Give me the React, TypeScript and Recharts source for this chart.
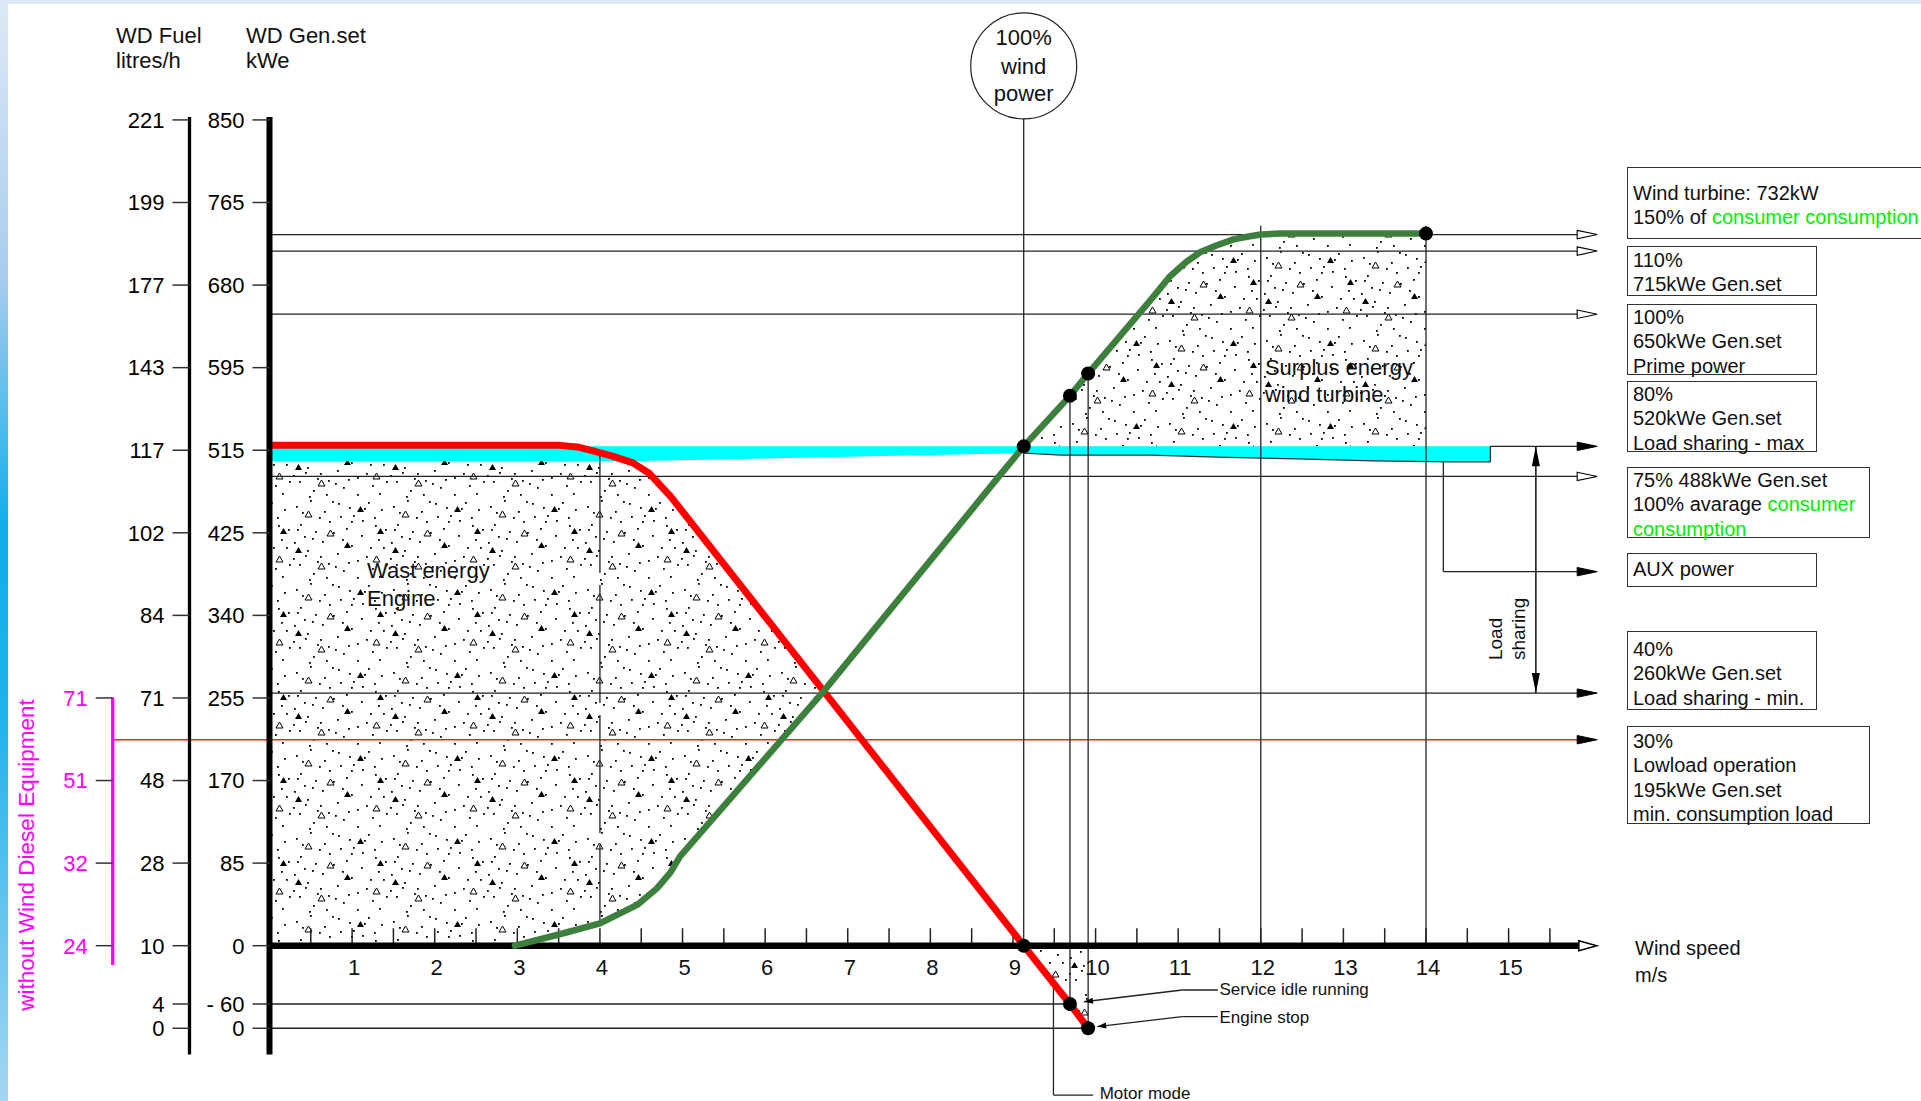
import React from "react";
import {
  ComposedChart,
  XAxis,
  YAxis,
  Line,
  Area,
  ReferenceLine,
  ReferenceDot,
} from "recharts";

const FONT = "'Liberation Sans', Arial, sans-serif";

// left axes: tick positions on the kWe scale and the labels printed there
const kweTicks = [-85, -60, 0, 85, 170, 255, 340, 425, 510, 595, 680, 765, 850];
const kweLabels = ["0", "- 60", "0", "85", "170", "255", "340", "425", "515", "595", "680", "765", "850"];
const fuelLabels = ["0", "4", "10", "28", "48", "71", "84", "102", "117", "143", "177", "199", "221"];
const magTicks = [0, 85, 170, 255];
const magLabels = ["24", "32", "51", "71"];

// wind speed axis
const xTicks = [0.5, 1, 1.5, 2, 2.5, 3, 3.5, 4, 4.5, 5, 5.5, 6, 6.5, 7, 7.5, 8, 8.5, 9, 9.5, 10, 10.5, 11, 11.5, 12, 12.5, 13, 13.5, 14, 14.5, 15, 15.5];
const xLabels = [1, 2, 3, 4, 5, 6, 7, 8, 9, 10, 11, 12, 13, 14, 15];

// diesel gen.set load (red)
const engineX = [0, 3.52, 3.75, 3.93, 4.15, 4.4, 4.6, 4.86, 9.13, 9.69, 9.91];
const engineKwe = [515, 515, 513, 509, 504, 497, 486, 462, 0, -60, -85];

// wind turbine power (green)
const windX = [2.97, 3.48, 4.0, 4.45, 4.69, 4.85, 4.97, 6.71, 8.82, 9.13, 9.69, 9.91, 10.3, 10.66, 10.9, 11.1, 11.27, 11.47, 11.67, 11.85, 12.0, 12.23, 14.0];
const windKwe = [0, 11, 23, 42, 59, 75, 92, 262, 482, 514, 566, 589, 628, 664, 689, 704, 714, 721, 727, 730, 732, 733, 733];

// cyan load sharing band
const bandX = [0, 4.5, 9.13, 9.59, 10.66, 11.47, 12.44, 13.36, 14.29, 14.78];
const bandLow = [499, 499, 507, 505, 505, 503, 501, 499, 498, 498];
const bandHigh = [514, 514, 514, 514, 514, 514, 514, 514, 514, 514];

// stippled regions
const wasteX = [0, 2.97, 3.48, 4.0, 4.3, 4.4, 4.6, 4.69, 4.86, 4.97, 6.71];
const wasteLow = [0, 0, 11, 23, 35, 39, 54, 59, 79, 92, 262];
const wasteHigh = [499, 499, 499, 499, 499, 497, 486, 478, 462, 450, 262];
const surplusX = [9.13, 9.69, 9.91, 10.3, 10.66, 10.9, 11.1, 11.27, 11.47, 11.67, 11.85, 12.0, 12.23, 14.0];
const surplusLow = [514, 514, 514, 514, 514, 514, 514, 514, 514, 514, 514, 514, 514, 514];
const surplusHigh = [514, 566, 589, 628, 664, 689, 704, 714, 721, 727, 730, 732, 733, 733];
const motorX = [9.13, 9.69, 9.91];
const motorLow = [0, -60, -85];
const motorHigh = [0, 0, 0];

// marked points
const dotX = [9.13, 9.13, 9.69, 9.91, 9.69, 9.91, 14.0];
const dotKwe = [0, 514, 566, 589, -60, -85, 733];

// horizontal levels with arrows to the legend boxes
const levelKwe = [732, 715, 650, 483, 260];
const levelMarker = ["arrOpen", "arrOpen", "arrOpen", "arrOpen", "arrFill"];

const pts = (xs: number[], ys: number[]) => xs.map((x, i) => ({ x, y: ys[i] }));
const rng = (xs: number[], lo: number[], hi: number[]) => xs.map((x, i) => ({ x, v: [lo[i], hi[i]] }));

const ARROW_END = 15.83;
const MAG_X = -1.898;

const lineShape = (end?: string, start?: string) => (p: any) => (
  <line
    x1={p.x1}
    y1={p.y1}
    x2={p.x2}
    y2={p.y2}
    stroke={p.stroke}
    strokeWidth={p.strokeWidth}
    strokeDasharray={p.strokeDasharray}
    markerEnd={end ? `url(#${end})` : undefined}
    markerStart={start ? `url(#${start})` : undefined}
  />
);

const textShape = (lines: string[], size: number, gap: number, anchor = "start") => (p: any) => (
  <text x={p.cx} y={p.cy} fontSize={size} fontFamily={FONT} fill="#111" textAnchor={anchor} dominantBaseline="central">
    {lines.map((l, i) => (
      <tspan key={i} x={p.cx} dy={i === 0 ? 0 : gap}>
        {l}
      </tspan>
    ))}
  </text>
);

const boxes = [
  { top: 167, h: 72, w: 330, pad: 13, lines: [["Wind turbine: 732kW"], ["150% of ", "consumer consumption"]] },
  { top: 246, h: 50, w: 190, pad: 1, lines: [["110%"], ["715kWe Gen.set"]] },
  { top: 304, h: 71, w: 190, pad: 0, lines: [["100%"], ["650kWe Gen.set"], ["Prime power"]] },
  { top: 381, h: 71, w: 190, pad: 0, lines: [["80%"], ["520kWe Gen.set"], ["Load sharing - max"]] },
  { top: 467, h: 71, w: 243, pad: 0, lines: [["75% 488kWe Gen.set"], ["100% avarage ", "consumer"], ["", "consumption"]] },
  { top: 553, h: 34, w: 190, pad: 3, lines: [["AUX power"]] },
  { top: 631, h: 79, w: 190, pad: 5, lines: [["40%"], ["260kWe Gen.set"], ["Load sharing - min."]] },
  { top: 726, h: 98, w: 243, pad: 2, lines: [["30%"], ["Lowload operation"], ["195kWe Gen.set"], ["min. consumption load"]] },
];

// decorative texture for the energy regions
const Stipple = () => (
  <pattern id="stipple" width="97" height="83" patternUnits="userSpaceOnUse">
    {[
      [5, 8], [19, 2], [33, 13], [47, 5], [62, 17], [77, 4], [90, 11], [9, 26], [24, 33], [38, 23],
      [55, 30], [70, 37], [84, 27], [3, 44], [16, 52], [31, 43], [46, 55], [60, 47], [75, 58], [92, 49],
      [8, 66], [22, 75], [37, 65], [52, 72], [66, 79], [81, 70], [28, 19], [13, 38], [51, 41], [42, 34],
      [2, 60], [71, 22], [49, 18], [35, 79], [11, 14], [41, 3], [58, 9], [21, 40], [29, 58], [66, 62],
      [6, 31], [44, 68], [60, 23], [26, 63], [14, 57], [87, 41], [79, 49], [95, 66], [88, 78], [73, 10],
      [57, 64], [18, 81], [83, 19], [94, 31],
    ].map(([x, y], i) => (
      <rect key={i} x={x} y={y} width={1.8} height={1.8} fill="#000" />
    ))}
    <path d="M14,19 l3.5,-6 l3.5,6 z" fill="none" stroke="#000" strokeWidth="1" />
    <path d="M53,50 l3.5,-6 l3.5,6 z" fill="#000" />
    <path d="M27,71 l3.5,-6 l3.5,6 z" fill="none" stroke="#000" strokeWidth="1" />
    <path d="M66,14 l3.5,-6 l3.5,6 z" fill="#000" />
    <path d="M36,38 l3.5,-6 l3.5,6 z" fill="none" stroke="#000" strokeWidth="1" />
    <path d="M4,55 l3.5,-6 l3.5,6 z" fill="#000" />
    <path d="M82,64 l3.5,-6 l3.5,6 z" fill="none" stroke="#000" strokeWidth="1" />
    <path d="M86,36 l3.5,-6 l3.5,6 z" fill="#000" />
  </pattern>
);

const App = () => {
  return (
    <div style={{ position: "absolute", left: 0, top: 0, width: 1921, height: 1101, background: "#fff", overflow: "hidden", fontFamily: FONT }}>
      <ComposedChart width={1921} height={1101} margin={{ top: 117, right: 324, bottom: 46.5, left: 40 }}>
        <defs>
          <Stipple />
          <marker id="arrOpen" viewBox="0 0 20 10" refX="0" refY="5" markerWidth="20" markerHeight="10" markerUnits="userSpaceOnUse" orient="auto" overflow="visible">
            <path d="M0,0.8 L20,5 L0,9.2 Z" fill="#fff" stroke="#000" strokeWidth="1.1" />
          </marker>
          <marker id="arrFill" viewBox="0 0 20 10" refX="0" refY="5" markerWidth="20" markerHeight="10" markerUnits="userSpaceOnUse" orient="auto" overflow="visible">
            <path d="M0,0.8 L20,5 L0,9.2 Z" fill="#000" stroke="#000" strokeWidth="1" />
          </marker>
          <marker id="arrRed" viewBox="0 0 20 10" refX="0" refY="5" markerWidth="20" markerHeight="10" markerUnits="userSpaceOnUse" orient="auto" overflow="visible">
            <path d="M0,0.8 L20,5 L0,9.2 Z" fill="#000" stroke="#000" strokeWidth="1" />
          </marker>
          <marker id="arrAxis" viewBox="0 0 20 12" refX="0" refY="6" markerWidth="20" markerHeight="12" markerUnits="userSpaceOnUse" orient="auto" overflow="visible">
            <path d="M0,1 L18,6 L0,11 Z" fill="#fff" stroke="#000" strokeWidth="1.5" />
          </marker>
          <marker id="arrTip" viewBox="0 0 20 10" refX="20" refY="5" markerWidth="20" markerHeight="10" markerUnits="userSpaceOnUse" orient="auto-start-reverse" overflow="visible">
            <path d="M0,1 L20,5 L0,9 Z" fill="#000" />
          </marker>
          <marker id="arrSmall" viewBox="0 0 9 6" refX="9" refY="3" markerWidth="9" markerHeight="6" markerUnits="userSpaceOnUse" orient="auto" overflow="visible">
            <path d="M0,0 L9,3 L0,6 Z" fill="#000" />
          </marker>
        </defs>

        <XAxis type="number" dataKey="x" domain={[0, 16.07]} allowDataOverflow hide />
        <YAxis
          type="number"
          domain={[-112, 853]}
          allowDataOverflow
          ticks={kweTicks}
          interval={0}
          width={80}
          tickSize={17}
          tickMargin={8}
          tickFormatter={(v: number) => kweLabels[kweTicks.indexOf(v)] ?? ""}
          axisLine={{ stroke: "#000", strokeWidth: 6 }}
          tickLine={{ stroke: "#333", strokeWidth: 1.5 }}
          tick={{ fill: "#000", fontSize: 22, fontFamily: FONT }}
        />
        <YAxis
          yAxisId="fuel"
          type="number"
          domain={[-112, 853]}
          allowDataOverflow
          ticks={kweTicks}
          interval={0}
          width={76.8}
          tickSize={17}
          tickMargin={8}
          tickFormatter={(v: number) => fuelLabels[kweTicks.indexOf(v)] ?? ""}
          axisLine={{ stroke: "#000", strokeWidth: 3.3 }}
          tickLine={{ stroke: "#333", strokeWidth: 1.5 }}
          tick={{ fill: "#000", fontSize: 22, fontFamily: FONT }}
        />
        <YAxis
          yAxisId="mag"
          type="number"
          domain={[-112, 853]}
          allowDataOverflow
          ticks={magTicks}
          interval={0}
          width={72.7}
          tickSize={17}
          tickMargin={8}
          tickFormatter={(v: number) => magLabels[magTicks.indexOf(v)] ?? ""}
          axisLine={false}
          tickLine={{ stroke: "#333", strokeWidth: 1.5 }}
          tick={{ fill: "#ff00ff", fontSize: 22, fontFamily: FONT }}
        />

        {/* stippled energy regions */}
        <Area data={rng(wasteX, wasteLow, wasteHigh)} dataKey="v" type="linear" stroke="none" fill="url(#stipple)" fillOpacity={1} isAnimationActive={false} activeDot={false} dot={false} />
        <Area data={rng(surplusX, surplusLow, surplusHigh)} dataKey="v" type="linear" stroke="none" fill="url(#stipple)" fillOpacity={1} isAnimationActive={false} activeDot={false} dot={false} />
        <Area data={rng(motorX, motorLow, motorHigh)} dataKey="v" type="linear" stroke="none" fill="url(#stipple)" fillOpacity={1} isAnimationActive={false} activeDot={false} dot={false} />
        <Area data={rng(bandX, bandLow, bandHigh)} dataKey="v" type="linear" stroke="none" fill="#00ffff" fillOpacity={1} isAnimationActive={false} activeDot={false} dot={false} />
        <Line data={pts(bandX.slice(2), bandLow.slice(2))} dataKey="y" type="linear" stroke="#333" strokeWidth={1.2} dot={false} activeDot={false} isAnimationActive={false} />

        {/* level lines */}
        {levelKwe.map((v, i) => (
          <ReferenceLine key={`lv${i}`} segment={[{ x: 0, y: v }, { x: ARROW_END, y: v }]} ifOverflow="visible" stroke="#222" strokeWidth={1.3} shape={lineShape(levelMarker[i])} />
        ))}
        <ReferenceLine segment={[{ x: 14.78, y: 514 }, { x: ARROW_END, y: 514 }]} ifOverflow="visible" stroke="#222" strokeWidth={1.3} shape={lineShape("arrFill")} />
        <ReferenceLine segment={[{ x: 14.78, y: 498 }, { x: 14.78, y: 514 }]} ifOverflow="visible" stroke="#222" strokeWidth={1.3} />
        <ReferenceLine segment={[{ x: 14.21, y: 498 }, { x: 14.21, y: 385 }]} ifOverflow="visible" stroke="#222" strokeWidth={1.3} />
        <ReferenceLine segment={[{ x: 14.21, y: 385 }, { x: ARROW_END, y: 385 }]} ifOverflow="visible" stroke="#222" strokeWidth={1.3} shape={lineShape("arrFill")} />
        <ReferenceLine segment={[{ x: MAG_X, y: 212 }, { x: ARROW_END, y: 212 }]} ifOverflow="visible" stroke="#ff2020" strokeWidth={1.3} shape={lineShape("arrRed")} />
        <ReferenceLine segment={[{ x: 0, y: -60 }, { x: 9.69, y: -60 }]} ifOverflow="visible" stroke="#222" strokeWidth={1.3} />
        <ReferenceLine segment={[{ x: 0, y: -85 }, { x: 9.91, y: -85 }]} ifOverflow="visible" stroke="#222" strokeWidth={1.3} />
        <ReferenceLine segment={[{ x: 15.33, y: 514 }, { x: 15.33, y: 260 }]} ifOverflow="visible" stroke="#111" strokeWidth={1.5} shape={lineShape("arrTip", "arrTip")} />

        {/* magenta reference axis */}
        <ReferenceLine segment={[{ x: MAG_X, y: 255.6 }, { x: MAG_X, y: -20 }]} ifOverflow="visible" stroke="#ff00ff" strokeWidth={3.3} />

        {/* vertical guides */}
        <ReferenceLine segment={[{ x: 9.13, y: 0 }, { x: 9.13, y: 851 }]} ifOverflow="visible" stroke="#222" strokeWidth={1.3} />
        <ReferenceLine segment={[{ x: 9.69, y: -60 }, { x: 9.69, y: 566 }]} ifOverflow="visible" stroke="#222" strokeWidth={1.3} />
        <ReferenceLine segment={[{ x: 9.91, y: -85 }, { x: 9.91, y: 589 }]} ifOverflow="visible" stroke="#222" strokeWidth={1.3} />
        <ReferenceLine segment={[{ x: 12, y: 0 }, { x: 12, y: 741 }]} ifOverflow="visible" stroke="#222" strokeWidth={1.3} />
        <ReferenceLine segment={[{ x: 14, y: 0 }, { x: 14, y: 741 }]} ifOverflow="visible" stroke="#222" strokeWidth={1.3} />
        <ReferenceLine segment={[{ x: 4, y: 505 }, { x: 4, y: 26 }]} ifOverflow="visible" stroke="#222" strokeWidth={1.3} strokeDasharray="118 12" shape={lineShape()} />

        {/* leaders */}
        <ReferenceLine segment={[{ x: 9.49, y: -153.8 }, { x: 9.49, y: -32 }]} ifOverflow="visible" stroke="#222" strokeWidth={1.3} shape={lineShape("arrSmall")} />
        <ReferenceLine segment={[{ x: 9.49, y: -153.8 }, { x: 9.97, y: -153.8 }]} ifOverflow="visible" stroke="#222" strokeWidth={1.3} />
        <ReferenceLine segment={[{ x: 11.48, y: -45.6 }, { x: 11.05, y: -45.6 }]} ifOverflow="visible" stroke="#222" strokeWidth={1.3} />
        <ReferenceLine segment={[{ x: 11.05, y: -45.6 }, { x: 9.86, y: -57.7 }]} ifOverflow="visible" stroke="#222" strokeWidth={1.3} shape={lineShape("arrSmall")} />
        <ReferenceLine segment={[{ x: 11.48, y: -73 }, { x: 11.05, y: -73 }]} ifOverflow="visible" stroke="#222" strokeWidth={1.3} />
        <ReferenceLine segment={[{ x: 11.05, y: -73 }, { x: 10.02, y: -83.3 }]} ifOverflow="visible" stroke="#222" strokeWidth={1.3} shape={lineShape("arrSmall")} />

        {/* wind speed axis */}
        {xTicks.map((t) => (
          <ReferenceLine key={`t${t}`} segment={[{ x: t, y: 0 }, { x: t, y: 18 }]} ifOverflow="visible" stroke="#222" strokeWidth={1.5} />
        ))}
        <ReferenceLine segment={[{ x: 0, y: 0 }, { x: 15.85, y: 0 }]} ifOverflow="visible" stroke="#000" strokeWidth={6.5} shape={lineShape("arrAxis")} />
        {xLabels.map((n) => (
          <ReferenceDot
            key={`xl${n}`}
            x={n}
            y={0}
            r={0}
            ifOverflow="visible"
            shape={(p: any) => (
              <text x={p.cx + 2} y={p.cy + 29} textAnchor="middle" fontSize={22} fontFamily={FONT} fill="#111">
                {n}
              </text>
            )}
          />
        ))}

        {/* curves */}
        <Line data={pts(engineX, engineKwe)} dataKey="y" type="linear" stroke="#ff0000" strokeWidth={7} strokeLinecap="round" strokeLinejoin="round" dot={false} activeDot={false} isAnimationActive={false} />
        <Line data={pts(windX, windKwe)} dataKey="y" type="linear" stroke="#3d803d" strokeWidth={6.5} strokeLinecap="round" strokeLinejoin="round" dot={false} activeDot={false} isAnimationActive={false} />

        {dotX.map((x, i) => (
          <ReferenceDot key={`d${i}`} x={x} y={dotKwe[i]} r={7} fill="#000" stroke="none" ifOverflow="visible" />
        ))}

        {/* annotations */}
        <ReferenceDot
          x={9.13}
          y={905.6}
          r={53}
          ifOverflow="visible"
          shape={(p: any) => (
            <g>
              <circle cx={p.cx} cy={p.cy} r={53} fill="#fff" stroke="#222" strokeWidth={1.2} />
              <text x={p.cx} textAnchor="middle" fontSize={22} fontFamily={FONT} fill="#111" dominantBaseline="central">
                <tspan x={p.cx} y={p.cy - 29}>100%</tspan>
                <tspan x={p.cx} y={p.cy}>wind</tspan>
                <tspan x={p.cx} y={p.cy + 27}>power</tspan>
              </text>
            </g>
          )}
        />
        <ReferenceDot x={1.18} y={387} r={0} ifOverflow="visible" shape={textShape(["Wast energy", "Engine"], 22, 28)} />
        <ReferenceDot x={12.05} y={595.7} r={0} ifOverflow="visible" shape={textShape(["Surplus energy", "wind turbine"], 22, 27)} />
        <ReferenceDot x={11.5} y={-44.2} r={0} ifOverflow="visible" shape={textShape(["Service idle running"], 17, 0)} />
        <ReferenceDot x={11.5} y={-73} r={0} ifOverflow="visible" shape={textShape(["Engine stop"], 17, 0)} />
        <ReferenceDot x={10.05} y={-151.6} r={0} ifOverflow="visible" shape={textShape(["Motor mode"], 17, 0)} />
        <ReferenceDot
          x={14.92}
          y={294}
          r={0}
          ifOverflow="visible"
          shape={(p: any) => (
            <text x={p.cx} y={p.cy} transform={`rotate(-90, ${p.cx}, ${p.cy})`} fontSize={19} fontFamily={FONT} fill="#111">
              <tspan x={p.cx}>Load</tspan>
              <tspan x={p.cx} dy={23}>sharing</tspan>
            </text>
          )}
        />
      </ComposedChart>

      {/* header labels */}
      <div style={{ position: "absolute", left: 116, top: 23, fontSize: 22, lineHeight: "25px", color: "#111" }}>
        WD Fuel<br />litres/h
      </div>
      <div style={{ position: "absolute", left: 246, top: 23, fontSize: 22, lineHeight: "25px", color: "#111" }}>
        WD Gen.set<br />kWe
      </div>
      <div style={{ position: "absolute", left: 1635, top: 935, fontSize: 20, lineHeight: "27px", color: "#111" }}>
        Wind speed<br />m/s
      </div>
      <div
        style={{
          position: "absolute",
          left: 27,
          top: 855,
          transform: "translate(-50%, -50%) rotate(-90deg)",
          whiteSpace: "nowrap",
          fontSize: 22.5,
          color: "#ff00ff",
        }}
      >
        without Wind Diesel Equipment
      </div>

      {/* legend boxes */}
      {boxes.map((b, i) => (
        <div
          key={i}
          style={{
            position: "absolute",
            left: 1627,
            top: b.top,
            width: b.w,
            height: b.h,
            boxSizing: "border-box",
            border: "1.5px solid #333",
            paddingLeft: 5,
            paddingTop: b.pad,
            fontSize: 20,
            lineHeight: "24.3px",
            color: "#111",
            whiteSpace: "nowrap",
          }}
        >
          {b.lines.map((l, j) => (
            <div key={j}>
              {l[0]}
              {l[1] ? <span style={{ color: "#00ee00" }}>{l[1]}</span> : null}
            </div>
          ))}
        </div>
      ))}

      {/* window frame */}
      <div style={{ position: "absolute", left: 0, top: 0, width: 1921, height: 4, background: "#dde9f5" }} />
      <div
        style={{
          position: "absolute",
          left: 0,
          top: 0,
          width: 8,
          height: 1101,
          background: "linear-gradient(to bottom, #dde9f6 0%, #a9cdee 25%, #10aeeb 48%, #1fb2eb 65%, #a6d6f2 100%)",
        }}
      />
    </div>
  );
};

export default App;
